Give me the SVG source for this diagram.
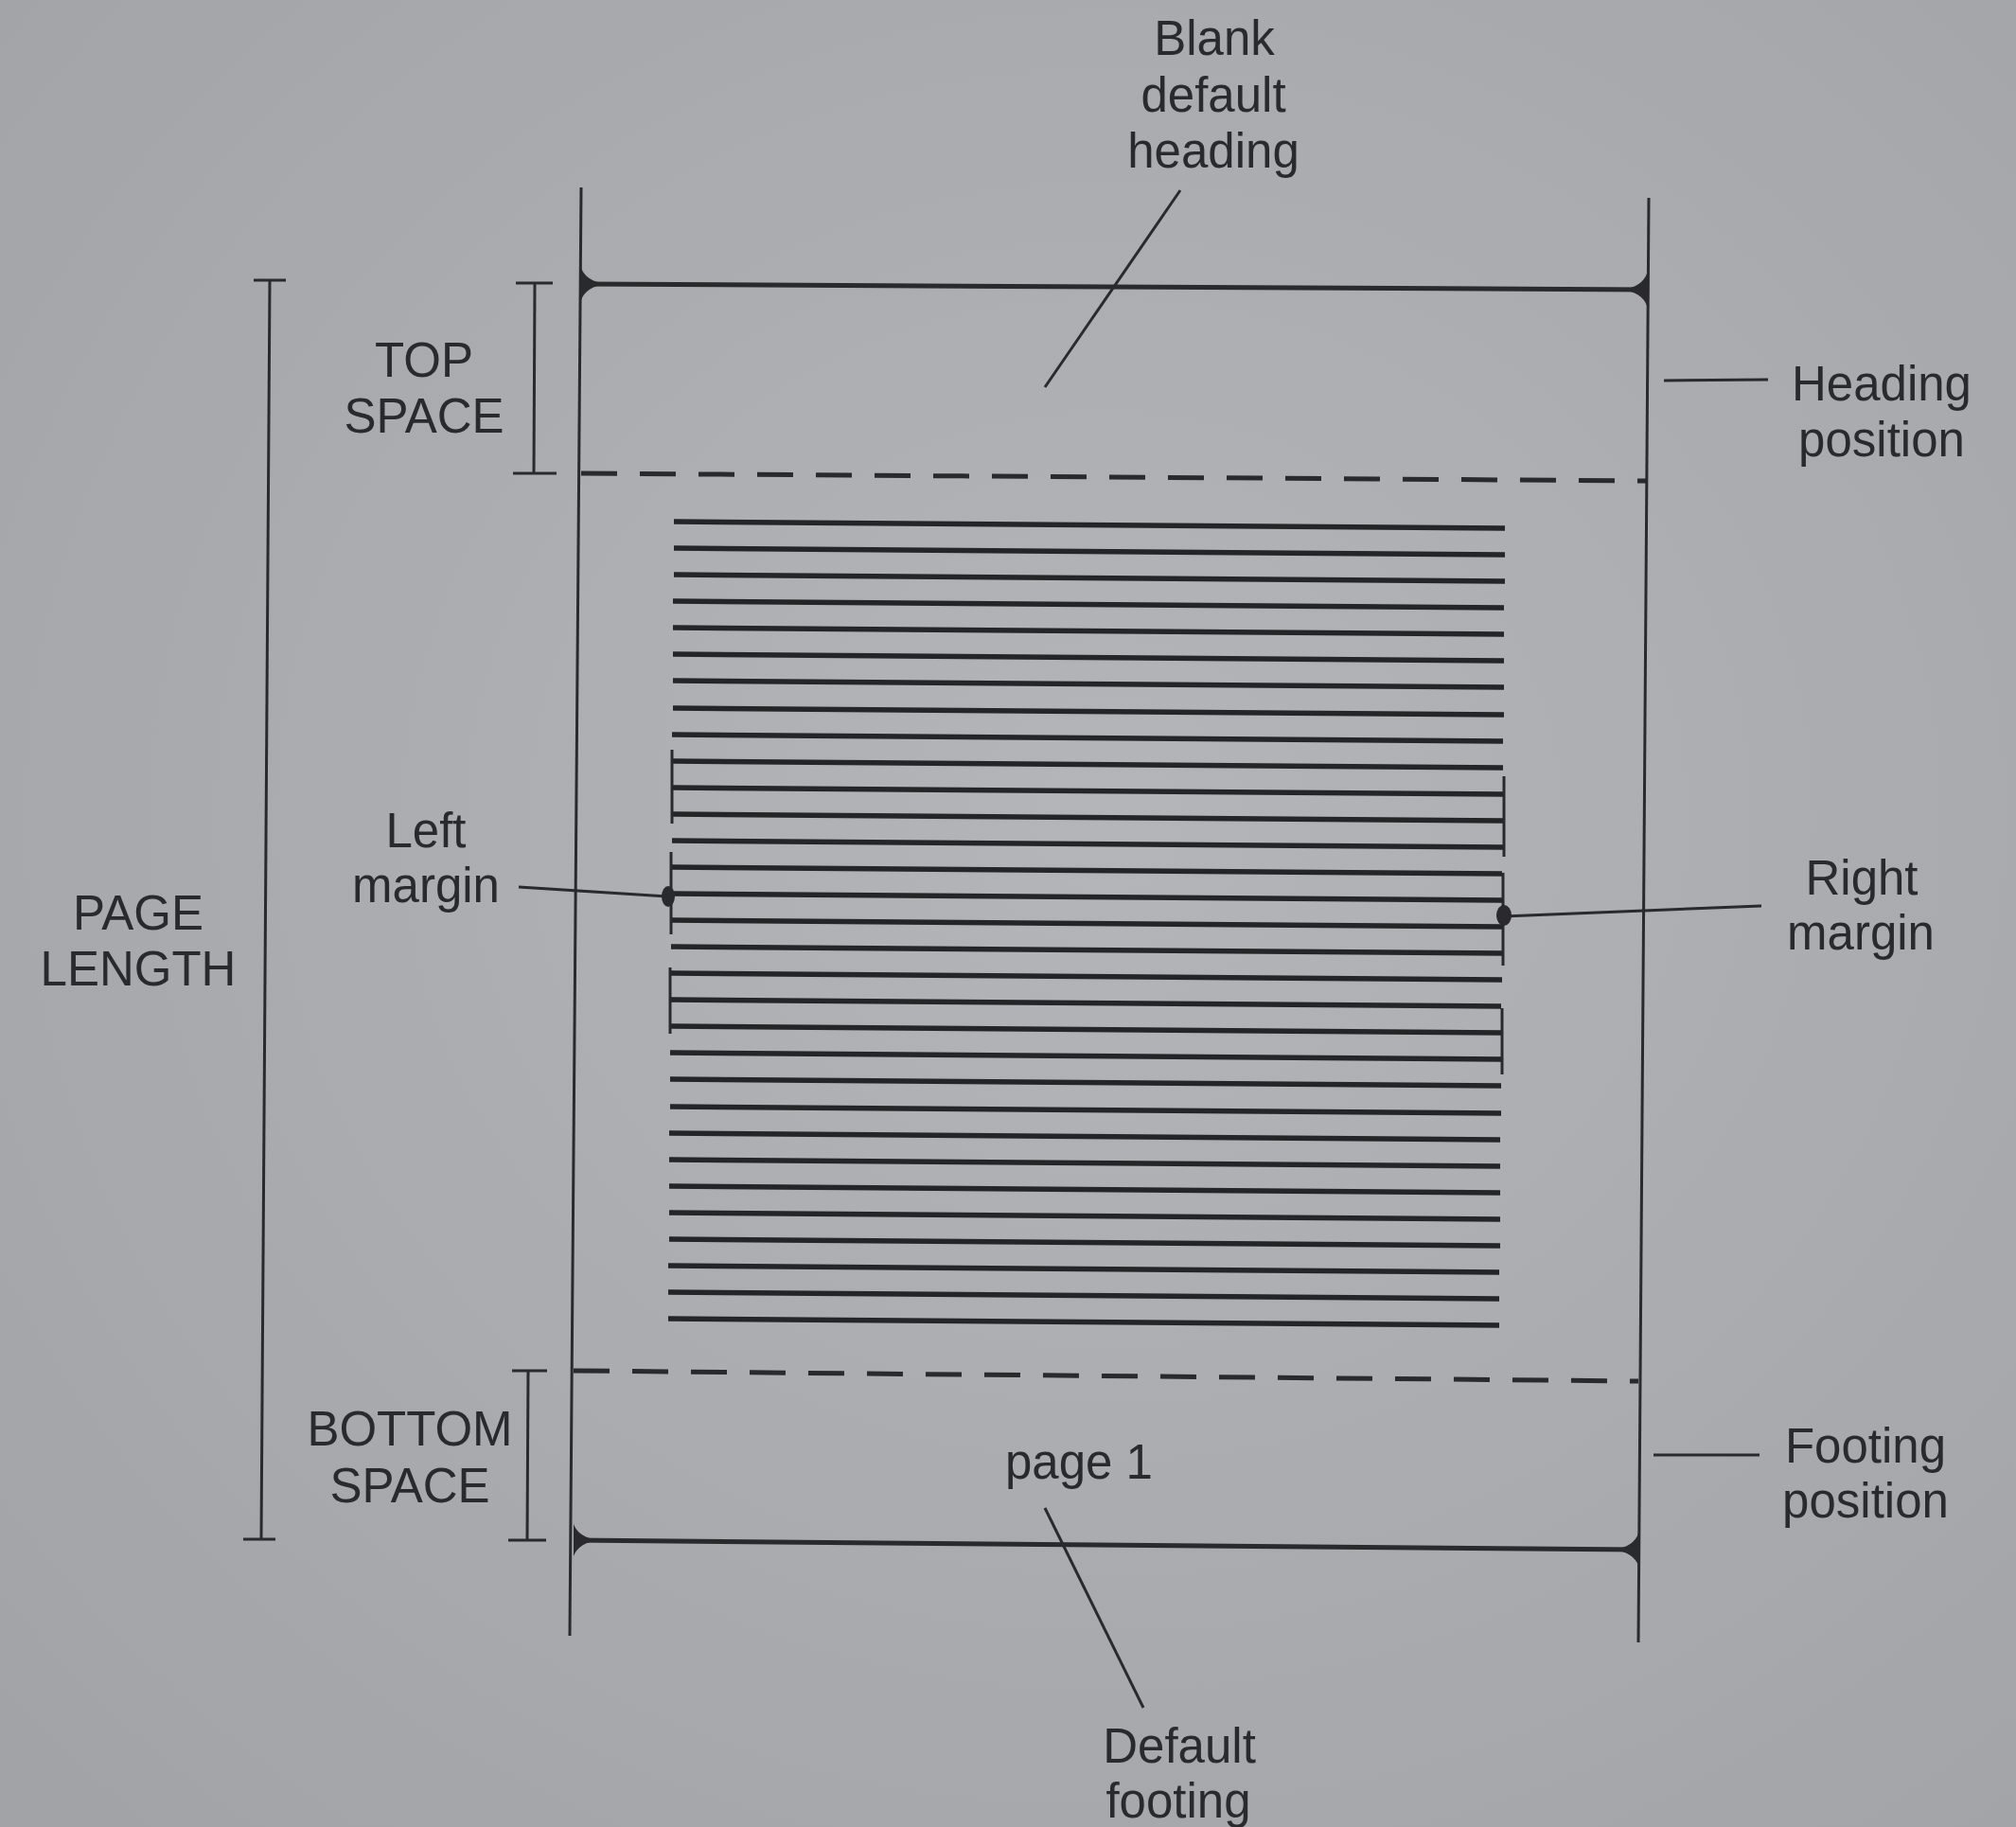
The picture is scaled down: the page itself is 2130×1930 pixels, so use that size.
<svg xmlns="http://www.w3.org/2000/svg" width="2130" height="1930" viewBox="0 0 2130 1930">
<defs>
<radialGradient id="paper" cx="0.55" cy="0.45" r="0.75">
<stop offset="0" stop-color="#b4b5b9"/>
<stop offset="1" stop-color="#a2a3a7"/>
</radialGradient>
<style>
.t{font-family:"Liberation Sans",Arial,sans-serif;font-size:51px;fill:#2a2a2c;text-anchor:middle}
.pg{stroke:#2a2a2c;stroke-width:3;fill:none}
.hf{stroke:#2a2a2c;stroke-width:5;fill:none}
.dash{stroke:#2a2a2c;stroke-width:5;stroke-dasharray:38 24;fill:none}
.tl{stroke:#252527;stroke-width:5.5;fill:none}
.bar{stroke:#2a2a2c;stroke-width:3;fill:none}
.ld{stroke:#2a2a2c;stroke-width:3;fill:none}
.tip{fill:#2a2a2c}
</style>
</defs>
<rect width="2130" height="1930" fill="url(#paper)"/>

<g id="page">
<line class="pg" x1="614" y1="198" x2="602" y2="1728"/>
<line class="pg" x1="1742" y1="209" x2="1731" y2="1735"/>
<line class="dash" x1="614" y1="500" x2="1740" y2="508"/>
<line class="dash" x1="606" y1="1448" x2="1731" y2="1459"/>
</g>

<g id="heading-line">
<line class="hf" x1="614" y1="300" x2="1740" y2="306"/>
<path class="tip" d="M614,283 Q619,297 640,300 Q619,303 614,317 Z"/>
<path class="tip" d="M1740,289 Q1735,303 1714,306 Q1735,309 1740,323 Z"/>
</g>

<g id="footing-line">
<line class="hf" x1="606" y1="1627" x2="1731" y2="1637"/>
<path class="tip" d="M606,1610 Q611,1624 632,1627 Q611,1630 606,1644 Z"/>
<path class="tip" d="M1731,1620 Q1726,1634 1705,1637 Q1726,1640 1731,1654 Z"/>
</g>

<g id="text-body">
<line class="tl" x1="712" y1="551" x2="1590" y2="558"/>
<line class="tl" x1="712" y1="579" x2="1590" y2="586"/>
<line class="tl" x1="712" y1="607" x2="1590" y2="614"/>
<line class="tl" x1="711" y1="635" x2="1589" y2="642"/>
<line class="tl" x1="711" y1="663" x2="1589" y2="670"/>
<line class="tl" x1="711" y1="691" x2="1589" y2="698"/>
<line class="tl" x1="711" y1="719" x2="1589" y2="726"/>
<line class="tl" x1="711" y1="748" x2="1589" y2="755"/>
<line class="tl" x1="710" y1="776" x2="1588" y2="783"/>
<line class="tl" x1="710" y1="804" x2="1588" y2="811"/>
<line class="tl" x1="710" y1="832" x2="1588" y2="839"/>
<line class="tl" x1="710" y1="860" x2="1588" y2="867"/>
<line class="tl" x1="710" y1="888" x2="1588" y2="895"/>
<line class="tl" x1="709" y1="916" x2="1587" y2="923"/>
<line class="tl" x1="709" y1="944" x2="1587" y2="951"/>
<line class="tl" x1="709" y1="972" x2="1587" y2="979"/>
<line class="tl" x1="709" y1="1000" x2="1587" y2="1007"/>
<line class="tl" x1="709" y1="1028" x2="1587" y2="1035"/>
<line class="tl" x1="708" y1="1056" x2="1586" y2="1063"/>
<line class="tl" x1="708" y1="1084" x2="1586" y2="1091"/>
<line class="tl" x1="708" y1="1112" x2="1586" y2="1119"/>
<line class="tl" x1="708" y1="1140" x2="1586" y2="1147"/>
<line class="tl" x1="708" y1="1169" x2="1586" y2="1176"/>
<line class="tl" x1="707" y1="1197" x2="1585" y2="1204"/>
<line class="tl" x1="707" y1="1225" x2="1585" y2="1232"/>
<line class="tl" x1="707" y1="1253" x2="1585" y2="1260"/>
<line class="tl" x1="707" y1="1281" x2="1585" y2="1288"/>
<line class="tl" x1="707" y1="1309" x2="1585" y2="1316"/>
<line class="tl" x1="706" y1="1337" x2="1584" y2="1344"/>
<line class="tl" x1="706" y1="1365" x2="1584" y2="1372"/>
<line class="tl" x1="706" y1="1393" x2="1584" y2="1400"/>
<line class="bar" x1="710" y1="792" x2="710" y2="870"/>
<line class="bar" x1="709" y1="900" x2="709" y2="987"/>
<line class="bar" x1="708" y1="1022" x2="708" y2="1092"/>
<line class="bar" x1="1589" y1="820" x2="1589" y2="905"/>
<line class="bar" x1="1588" y1="922" x2="1588" y2="1020"/>
<line class="bar" x1="1587" y1="1065" x2="1587" y2="1135"/>
<ellipse class="tip" cx="706" cy="947" rx="7" ry="11"/>
<ellipse class="tip" cx="1589" cy="967" rx="8" ry="11"/>
</g>

<g id="connectors">
<line class="ld" x1="1247" y1="201" x2="1104" y2="409"/>
<line class="ld" x1="1758" y1="402" x2="1868" y2="401"/>
<line class="ld" x1="1747" y1="1537" x2="1859" y2="1537"/>
<line class="ld" x1="548" y1="937" x2="705" y2="947"/>
<line class="ld" x1="1589" y1="968" x2="1861" y2="957"/>
<line class="ld" x1="1104" y1="1593" x2="1208" y2="1804"/>
</g>

<g id="page-length">
<line class="bar" x1="285" y1="296" x2="276" y2="1626"/>
<line class="bar" x1="268" y1="296" x2="302" y2="296"/>
<line class="bar" x1="257" y1="1626" x2="291" y2="1626"/>
<text class="t" x="146" y="982">PAGE</text>
<text class="t" x="146" y="1041">LENGTH</text>
</g>

<g id="top-space">
<line class="bar" x1="565" y1="299" x2="564" y2="500"/>
<line class="bar" x1="545" y1="299" x2="584" y2="299"/>
<line class="bar" x1="542" y1="500" x2="588" y2="500"/>
<text class="t" x="448" y="398">TOP</text>
<text class="t" x="448" y="457">SPACE</text>
</g>

<g id="bottom-space">
<line class="bar" x1="558" y1="1448" x2="557" y2="1627"/>
<line class="bar" x1="541" y1="1448" x2="578" y2="1448"/>
<line class="bar" x1="537" y1="1627" x2="577" y2="1627"/>
<text class="t" x="433" y="1527">BOTTOM</text>
<text class="t" x="433" y="1587">SPACE</text>
</g>

<g id="blank-default-heading">
<text class="t" x="1283" y="58">Blank</text>
<text class="t" x="1282" y="118">default</text>
<text class="t" x="1282" y="177">heading</text>
</g>

<g id="heading-position">
<text class="t" x="1988" y="423">Heading</text>
<text class="t" x="1988" y="482">position</text>
</g>

<g id="left-margin">
<text class="t" x="450" y="895">Left</text>
<text class="t" x="450" y="953">margin</text>
</g>

<g id="right-margin">
<text class="t" x="1967" y="945">Right</text>
<text class="t" x="1966" y="1003">margin</text>
</g>

<g id="page-number">
<text class="t" x="1140" y="1562">page 1</text>
</g>

<g id="footing-position">
<text class="t" x="1971" y="1545">Footing</text>
<text class="t" x="1971" y="1603">position</text>
</g>

<g id="default-footing">
<text class="t" x="1246" y="1862">Default</text>
<text class="t" x="1245" y="1920">footing</text>
</g>
</svg>
